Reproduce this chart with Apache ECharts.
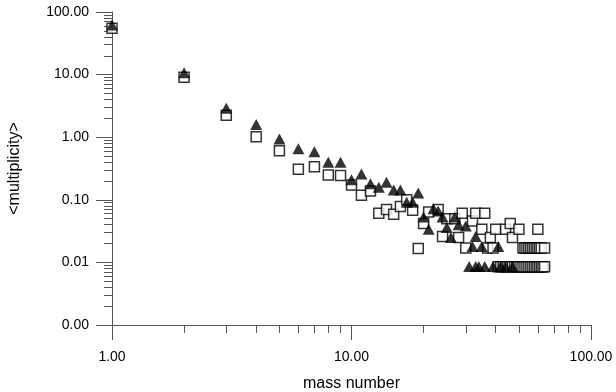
<!DOCTYPE html>
<html>
<head>
<meta charset="utf-8">
<script src="https://cdn.jsdelivr.net/npm/echarts@6/dist/echarts.min.js"></script>
<style>
  html, body { margin: 0; padding: 0; background: #fff; }
  #chart { width: 616px; height: 392px; }
</style>
</head>
<body>
<div id="chart"></div>
<script>
// open squares: [mass number, <multiplicity>]
var squareData = [
  [1, 55], [2, 9.1], [3, 2.25], [4, 1.02], [5, 0.61], [6, 0.307], [7, 0.338], [8, 0.25], [9, 0.245],
  [10, 0.172], [11, 0.118], [12, 0.138], [13, 0.061], [14, 0.07], [15, 0.059], [16, 0.078], [17, 0.1],
  [18, 0.068], [19, 0.0167], [20, 0.042], [21, 0.064], [23, 0.07], [24, 0.026], [25, 0.05], [27, 0.05],
  [28, 0.025], [29, 0.061], [30, 0.017], [32, 0.046], [33, 0.061], [35, 0.034], [36, 0.061], [37, 0.017],
  [38, 0.025], [39, 0.017], [40, 0.034], [44, 0.034], [46, 0.042], [47, 0.025], [50, 0.034], [60, 0.034],
  [52, 0.017], [53, 0.017], [54, 0.017], [55, 0.017], [56, 0.017], [57, 0.017], [58, 0.017], [59, 0.017],
  [60, 0.017], [61, 0.017], [62, 0.017], [64, 0.017],
  [41, 0.0085], [42, 0.0085], [43, 0.0085], [44, 0.0085], [45, 0.0085], [46, 0.0085], [47, 0.0085],
  [48, 0.0085], [49, 0.0085], [50, 0.0085], [51, 0.0085], [52, 0.0085], [53, 0.0085], [54, 0.0085],
  [55, 0.0085], [56, 0.0085], [57, 0.0085], [58, 0.0085], [59, 0.0085], [60, 0.0085], [61, 0.0085],
  [62, 0.0085], [63, 0.0085], [64, 0.0085]
]
// filled triangles
var triangleData = [
  [1, 62], [2, 10.7], [3, 2.9], [4, 1.6], [5, 0.935], [6, 0.655], [7, 0.586], [8, 0.397], [9, 0.397],
  [10, 0.21], [11, 0.258], [12, 0.18], [13, 0.158], [14, 0.19], [15, 0.143], [16, 0.143], [17, 0.091],
  [18, 0.091], [19, 0.128], [20, 0.053], [21, 0.034], [22, 0.072], [23, 0.066], [24, 0.053], [25, 0.036],
  [26, 0.025], [27, 0.053], [28, 0.04], [30, 0.038], [32, 0.018], [33, 0.026], [35, 0.018], [41, 0.018],
  [31, 0.0086], [33, 0.0086], [34, 0.0086], [36, 0.0086], [39, 0.0086], [42, 0.0086], [44, 0.0086], [47, 0.0086]
]
var xMajor = [1, 10, 100]
var yMajor = [0.001, 0.01, 0.1, 1, 10, 100]
var xMinor = [2, 3, 4, 5, 6, 7, 8, 9, 20, 30, 40, 50, 60, 70, 80, 90]
var yMinor = [
  0.002, 0.003, 0.004, 0.005, 0.006, 0.007, 0.008, 0.009,
  0.02, 0.03, 0.04, 0.05, 0.06, 0.07, 0.08, 0.09,
  0.2, 0.3, 0.4, 0.5, 0.6, 0.7, 0.8, 0.9,
  2, 3, 4, 5, 6, 7, 8, 9,
  20, 30, 40, 50, 60, 70, 80, 90
]

var font = 'Liberation Sans, Arial, sans-serif'
var axisColor = '#555'

var myChart = echarts.init(document.getElementById('chart'))
myChart.setOption({
  animation: false,
  grid: { left: 112, right: 25, top: 12, bottom: 67, outerBoundsMode: 'none' },
  xAxis: [
    {
      type: 'log', logBase: 10, min: 1, max: 100,
      name: 'mass number', nameLocation: 'middle', nameGap: 51,
      nameTextStyle: { fontFamily: font, fontSize: 16, color: '#000' },
      axisLine: { lineStyle: { color: axisColor, width: 1 } },
      axisTick: { customValues: xMajor, length: 15, lineStyle: { color: axisColor } },
      axisLabel: {
        customValues: xMajor, margin: 25, fontFamily: font, fontSize: 14, color: '#000',
        formatter: function (v) { return Number(v).toFixed(2) }
      },
      splitLine: { show: false }
    },
    {
      // minor ticks
      type: 'log', logBase: 10, min: 1, max: 100, position: 'bottom',
      axisLine: { show: false },
      axisTick: { customValues: xMinor, length: 8, lineStyle: { color: axisColor } },
      axisLabel: { show: false },
      splitLine: { show: false }
    }
  ],
  yAxis: [
    {
      type: 'log', logBase: 10, min: 0.001, max: 100,
      name: '<multiplicity>', nameLocation: 'middle', nameGap: 89,
      nameTextStyle: { fontFamily: font, fontSize: 16, color: '#000' },
      axisLine: { show: true, lineStyle: { color: axisColor, width: 1 } },
      axisTick: { show: true, customValues: yMajor, length: 16, lineStyle: { color: axisColor } },
      axisLabel: {
        customValues: yMajor, margin: 23, fontFamily: font, fontSize: 14, color: '#000',
        formatter: function (v) { return Number(v).toFixed(2) }
      },
      splitLine: { show: false }
    },
    {
      type: 'log', logBase: 10, min: 0.001, max: 100, position: 'left',
      axisLine: { show: false },
      axisTick: { show: true, customValues: yMinor, length: 8, lineStyle: { color: axisColor } },
      axisLabel: { show: false },
      splitLine: { show: false }
    }
  ],
  series: [
    {
      name: 'squares',
      type: 'scatter',
      data: squareData,
      symbol: 'rect',
      symbolSize: 10,
      itemStyle: { color: '#fff', borderColor: '#000', borderWidth: 1.5 }
    },
    {
      name: 'triangles',
      type: 'scatter',
      data: triangleData,
      symbol: 'triangle',
      symbolSize: [12, 11],
      itemStyle: { color: '#000' }
    }
  ]
})
</script>
</body>
</html>
